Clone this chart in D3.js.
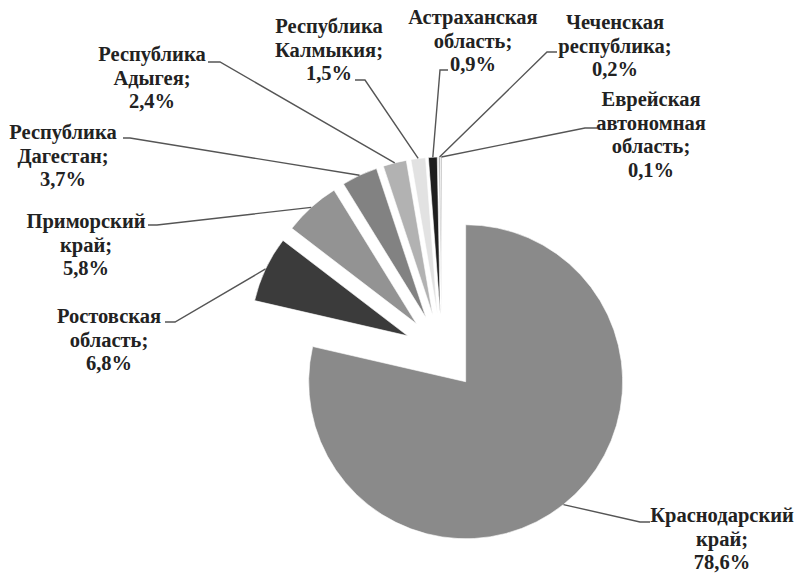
<!DOCTYPE html>
<html>
<head>
<meta charset="utf-8">
<script src="https://cdn.jsdelivr.net/npm/d3@7"></script>
<style>
  body { margin: 0; background: #fff; }
  svg { display: block; }
  .lbl { font-family: 'Liberation Serif', 'DejaVu Serif', serif; font-weight: bold; }
</style>
</head>
<body>
<div id="chart"></div>
<script>
const width = 799;
const height = 573;

// данные
const regions = [
  'Краснодарский край',
  'Ростовская область',
  'Приморский край',
  'Республика Дагестан',
  'Республика Адыгея',
  'Республика Калмыкия',
  'Астраханская область',
  'Чеченская республика',
  'Еврейская автономная область'
];
const shares = [78.6, 6.8, 5.8, 3.7, 2.4, 1.5, 0.9, 0.2, 0.1];
const sliceColors = ['#8a8a8a', '#3b3b3b', '#939393', '#828282', '#b2b2b2', '#e2e2e2', '#1e1e1e', '#b4b4b4', '#8a8a8a'];

// положение подписей: центр текста, базовая линия первой строки, излом выноски
const labelX = [722, 109, 86, 63, 152, 329, 473, 615, 651];
const labelY = [522, 323, 228, 139, 61, 33, 24, 29, 106];
const elbowX = [640, 175, 157, 130, 220, 365, 440, 547, 585];
const elbowY = [522, 322, 225, 138, 62, 80, 70, 52, 128];
const tailX  = [650, 165, 148, 123, 208, 355, 448, 557, 597];

const cx = 442, cy = 352;
const radius = 157;
const explode = 38;
const lineH = 23.5;

const svg = d3.select('#chart')
  .append('svg')
  .attr('width', width)
  .attr('height', height);

const pie = d3.pie().sort(null).value(d => d);
const arcs = pie(shares);

const arc = d3.arc().innerRadius(0).outerRadius(radius);

const mid = d => (d.startAngle + d.endAngle) / 2;

const g = svg.append('g').attr('transform', `translate(${cx},${cy})`);

// сектора
g.selectAll('path.slice')
  .data(arcs)
  .join('path')
  .attr('class', 'slice')
  .attr('d', arc)
  .attr('transform', d => `translate(${Math.sin(mid(d)) * explode},${-Math.cos(mid(d)) * explode})`)
  .attr('fill', (d, i) => sliceColors[i])
  .attr('stroke', '#fff')
  .attr('stroke-width', 0.6);

// выноски
const fmt = v => d3.format('.1f')(v).replace('.', ',') + '%';

svg.append('g')
  .selectAll('polyline')
  .data(arcs)
  .join('polyline')
  .attr('points', (d, i) => {
    const a = mid(d);
    const px = cx + Math.sin(a) * (radius + explode);
    const py = cy - Math.cos(a) * (radius + explode);
    return `${px},${py} ${elbowX[i]},${elbowY[i]} ${tailX[i]},${elbowY[i]}`;
  })
  .attr('fill', 'none')
  .attr('stroke', '#555')
  .attr('stroke-width', 1.4);

// подписи
const labels = svg.append('g')
  .selectAll('text')
  .data(arcs)
  .join('text')
  .attr('class', 'lbl')
  .attr('x', (d, i) => labelX[i])
  .attr('y', (d, i) => labelY[i])
  .attr('text-anchor', 'middle')
  .style('font-size', '20.5px')
  .style('fill', '#222');

labels.each(function (d, i) {
  const words = regions[i].split(' ');
  words[words.length - 1] += ';';
  words.push(fmt(shares[i]));
  d3.select(this).selectAll('tspan')
    .data(words)
    .join('tspan')
    .attr('x', labelX[i])
    .attr('dy', (w, j) => j === 0 ? 0 : lineH)
    .text(w => w);
});
</script>
</body>
</html>
